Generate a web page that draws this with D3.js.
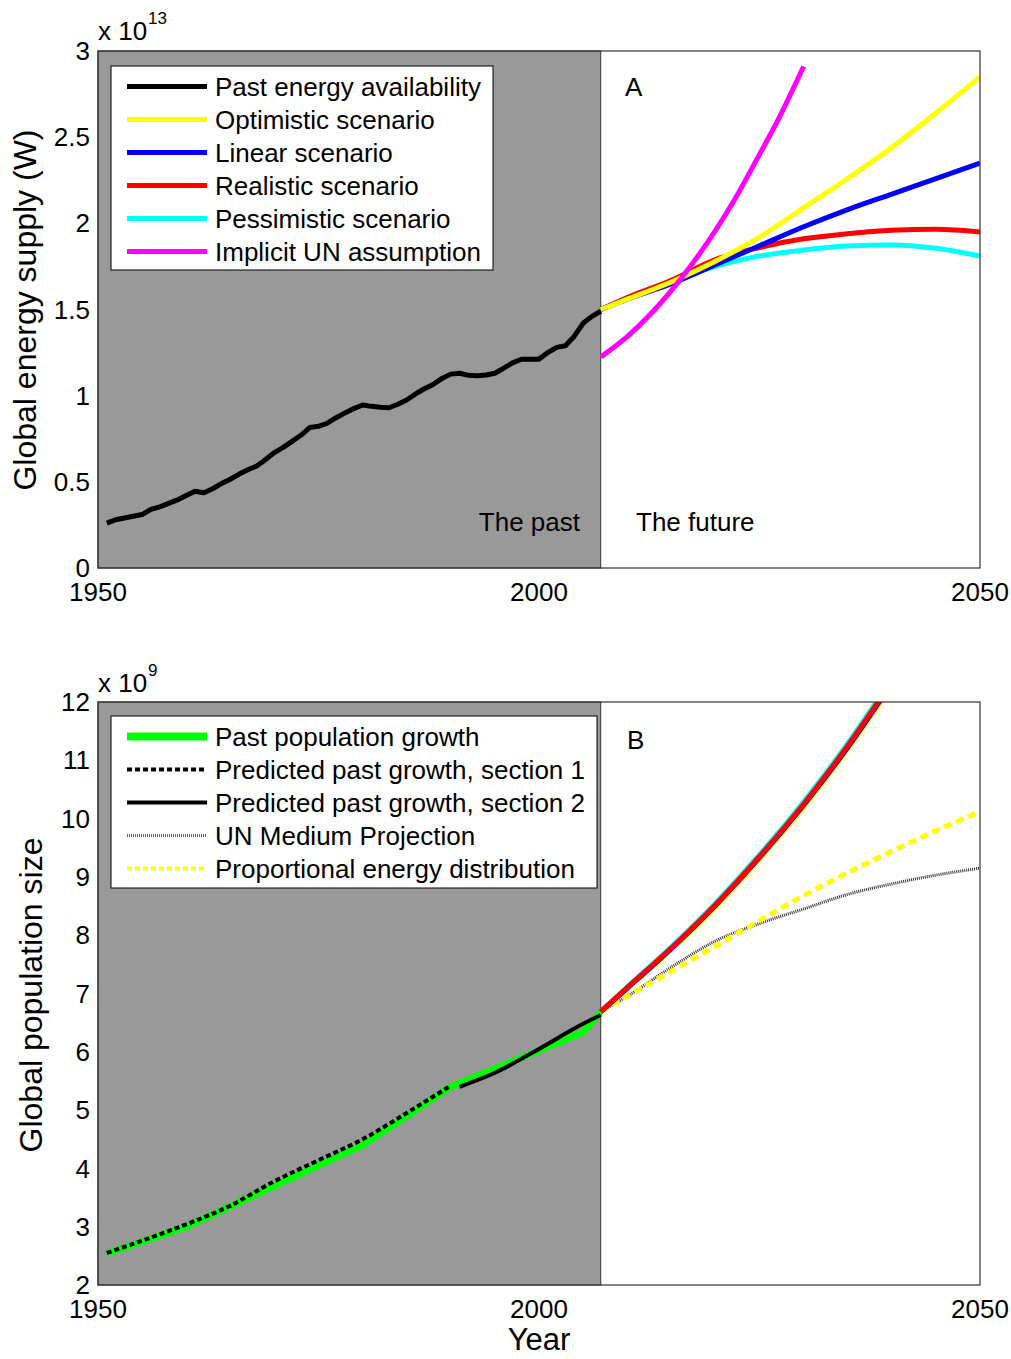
<!DOCTYPE html>
<html><head><meta charset="utf-8">
<script src="https://cdn.jsdelivr.net/npm/d3@7"></script>
<style>body{margin:0;background:#fff}svg{display:block;font-family:"Liberation Sans",Arial,sans-serif}</style>
</head><body><svg id="c" width="1011" height="1359"></svg>
<script>
// ---------- Panel A data ----------
const energyYears = d3.range(1951, 2008);
const energyPast = [0.26,0.28,0.29,0.30,0.31,0.34,0.355,0.375,0.395,0.42,0.445,0.437,0.46,0.49,0.515,0.545,0.57,0.592,0.63,0.67,0.70,0.735,0.77,0.815,0.822,0.84,0.872,0.90,0.925,0.946,0.938,0.933,0.930,0.95,0.975,1.01,1.04,1.065,1.10,1.125,1.13,1.118,1.116,1.12,1.13,1.16,1.19,1.211,1.211,1.212,1.25,1.28,1.29,1.345,1.42,1.46,1.49];
const futureYears = [2007,2010,2015,2020,2025,2030,2035,2040,2045,2050];
const optimistic  = [1.50,1.56,1.66,1.78,1.92,2.09,2.26,2.44,2.64,2.85];
const linearSc    = [1.50,1.56,1.65,1.76,1.87,1.98,2.08,2.17,2.26,2.35];
const realistic   = [1.50,1.57,1.67,1.79,1.86,1.91,1.94,1.96,1.965,1.95];
const pessimistic = [1.50,1.56,1.66,1.75,1.81,1.845,1.868,1.875,1.855,1.81];
const unImplicitYears = [2007,2010,2013,2015,2017,2020,2022,2025,2027,2030];
const unImplicit  = [1.225,1.343,1.493,1.609,1.739,1.958,2.122,2.40,2.59,2.91];
const energyTicks = [0,0.5,1,1.5,2,2.5,3];
const energyTickLabels = ["0","0.5","1","1.5","2","2.5","3"];
const energyLegend = ["Past energy availability","Optimistic scenario","Linear scenario","Realistic scenario","Pessimistic scenario","Implicit UN assumption"];
const energyColors = ["#000000","#ffff00","#0000ff","#ff0000","#00ffff","#ff00ff"];

// ---------- Panel B data ----------
const greenYears = [1951,1960,1970,1980,1990,2000,2005,2007];
const greenPop   = [2.54,3.00,3.70,4.40,5.40,6.02,6.34,6.69];
const sec1Years = [1951,1955,1960,1965,1970,1975,1980,1985,1990];
const sec1Pop   = [2.55,2.76,3.04,3.36,3.78,4.14,4.50,4.95,5.42];
const sec2Years = [1991,1995,2000,2005,2007];
const sec2Pop   = [5.40,5.64,6.05,6.48,6.63];
const popFutureYears = [2007,2010,2015,2020,2025,2030,2035,2040];
const popYellow = [6.69,7.08,7.75,8.48,9.30,10.19,11.18,12.27];
const popBlue   = [6.69,7.09,7.77,8.51,9.33,10.23,11.22,12.32];
const popCyan   = [6.69,7.11,7.80,8.55,9.38,10.29,11.29,12.40];
const popRed    = [6.69,7.10,7.78,8.52,9.35,10.25,11.25,12.35];
const unMedium  = [6.69,6.95,7.45,7.90,8.20,8.45,8.70,8.88,9.03,9.15];
const propEnergy= [6.69,6.95,7.38,7.81,8.25,8.68,9.07,9.44,9.79,10.12];
const popTicks = [2,3,4,5,6,7,8,9,10,11,12];
const popLegend = ["Past population growth","Predicted past growth, section 1","Predicted past growth, section 2","UN Medium Projection","Proportional energy distribution"];

const xTicks = [1950,2000,2050];
const pastEnd = 2007;

const svg = d3.select("#c");
const L = 98, R = 980;
const x = d3.scaleLinear().domain([1950,2050]).range([L,R]);

function panel(top, bottom, yDomain, id){
  const y = d3.scaleLinear().domain(yDomain).range([bottom, top]);
  const g = svg.append("g");
  g.append("defs").append("clipPath").attr("id", id)
    .append("rect").attr("x", L).attr("y", top).attr("width", R-L).attr("height", bottom-top);
  g.append("rect").attr("x", L).attr("y", top).attr("width", R-L).attr("height", bottom-top).attr("fill","#fff");
  g.append("rect").attr("x", L).attr("y", top).attr("width", x(pastEnd)-L).attr("height", bottom-top)
    .attr("fill","#999999").attr("stroke","#333").attr("stroke-width",1);
  const plot = g.append("g").attr("clip-path", `url(#${id})`);
  return {y, g, plot};
}

function drawAxes(p, top, bottom, ticks, labels){
  const g = p.g;
  g.append("rect").attr("x", L).attr("y", top).attr("width", R-L).attr("height", bottom-top)
    .attr("fill","none").attr("stroke","#333").attr("stroke-width",1.2);
  g.selectAll(null).data(ticks).enter().append("text")
    .attr("x", L-8).attr("y", d=>p.y(d)).attr("dy","0.35em").attr("text-anchor","end")
    .attr("font-size",26).text((d,i)=>labels[i]);
  g.selectAll(null).data(xTicks).enter().append("text")
    .attr("x", d=>x(d)).attr("y", bottom+24).attr("dy","0.35em").attr("text-anchor","middle")
    .attr("font-size",26).text(d=>d);
}

function line(plot, xs, ys, y, color, width, dash, curve){
  const gen = d3.line().x(d=>x(d[0])).y(d=>y(d[1])).curve(curve || d3.curveLinear);
  const path = plot.append("path").datum(xs.map((v,i)=>[v, ys[i]])).attr("d", gen)
    .attr("fill","none").attr("stroke",color).attr("stroke-width",width)
    .attr("stroke-linejoin","round");
  if (dash) path.attr("stroke-dasharray", dash);
  return path;
}

function legend(g, bx, by, bw, bh, items){
  g.append("rect").attr("x",bx).attr("y",by).attr("width",bw).attr("height",bh)
    .attr("fill","#fff").attr("stroke","#000").attr("stroke-width",1);
  items.forEach((it,i)=>{
    const yy = by + 20.5 + i*33;
    const ln = g.append("line").attr("x1",bx+16).attr("x2",bx+96).attr("y1",yy).attr("y2",yy)
      .attr("stroke",it.color).attr("stroke-width",it.width);
    if (it.dash) ln.attr("stroke-dasharray", it.dash);
    g.append("text").attr("x",bx+104).attr("y",yy).attr("dy","0.36em").attr("font-size",26).text(it.label);
  });
}

// ---------- Panel A ----------
const A = panel(51, 568, [0,3], "clipA");
const mono = d3.curveMonotoneX;
line(A.plot, energyYears, energyPast, A.y, "#000", 5);
line(A.plot, futureYears, pessimistic, A.y, "#00ffff", 5, null, mono);
line(A.plot, futureYears, realistic, A.y, "#ff0000", 5, null, mono);
line(A.plot, futureYears, linearSc, A.y, "#0000ff", 5, null, mono);
line(A.plot, futureYears, optimistic, A.y, "#ffff00", 5, null, mono);
line(A.plot, unImplicitYears, unImplicit, A.y, "#ff00ff", 5, null, mono);
drawAxes(A, 51, 568, energyTicks, energyTickLabels);
legend(A.g, 111, 66, 382, 204, energyLegend.map((l,i)=>({label:l,color:energyColors[i],width:5})));
A.g.append("text").attr("x",625).attr("y",96).attr("font-size",26).text("A");
A.g.append("text").attr("x",580).attr("y",531).attr("text-anchor","end").attr("font-size",26).text("The past");
A.g.append("text").attr("x",636).attr("y",531).attr("font-size",26).text("The future");
A.g.append("text").attr("x",98).attr("y",40).attr("font-size",26).text("x 10");
A.g.append("text").attr("x",148).attr("y",24).attr("font-size",17).text("13");
svg.append("text").attr("transform","translate(36,310) rotate(-90)").attr("text-anchor","middle")
  .attr("font-size",32).text("Global energy supply (W)");

// ---------- Panel B ----------
const B = panel(702, 1285, [2,12], "clipB");
line(B.plot, greenYears, greenPop, B.y, "#00ff00", 7);
line(B.plot, sec1Years, sec1Pop, B.y, "#000", 4, "5,3", mono);
line(B.plot, sec2Years, sec2Pop, B.y, "#000", 4, null, mono);
line(B.plot, futureYears, unMedium, B.y, "#333", 3, "1,1", mono);
line(B.plot, futureYears, propEnergy, B.y, "#ffff00", 5, "8,5", mono);
line(B.plot, popFutureYears, popCyan, B.y, "#00ffff", 5, null, mono);
line(B.plot, popFutureYears, popYellow, B.y, "#ffff00", 5, null, mono);
line(B.plot, popFutureYears, popBlue, B.y, "#0000ff", 5, null, mono);
line(B.plot, popFutureYears, popRed, B.y, "#ff0000", 5, null, mono);
drawAxes(B, 702, 1285, popTicks, popTicks.map(String));
legend(B.g, 111, 716, 486, 172, [
  {label:popLegend[0], color:"#00ff00", width:8},
  {label:popLegend[1], color:"#000", width:4, dash:"5,3"},
  {label:popLegend[2], color:"#000", width:4},
  {label:popLegend[3], color:"#666", width:3, dash:"1,1"},
  {label:popLegend[4], color:"#ffff00", width:4, dash:"5,3"}
]);
B.g.append("text").attr("x",627).attr("y",749).attr("font-size",26).text("B");
B.g.append("text").attr("x",98).attr("y",692).attr("font-size",26).text("x 10");
B.g.append("text").attr("x",148).attr("y",676).attr("font-size",17).text("9");
svg.append("text").attr("transform","translate(42,995) rotate(-90)").attr("text-anchor","middle")
  .attr("font-size",32).text("Global population size");
svg.append("text").attr("x",539).attr("y",1350).attr("text-anchor","middle").attr("font-size",31).text("Year");
</script></body></html>
